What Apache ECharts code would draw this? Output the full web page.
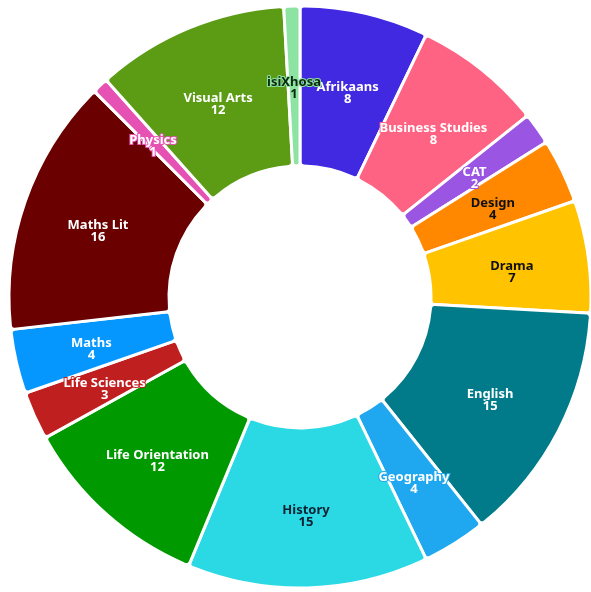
<!DOCTYPE html>
<html>
<head>
<meta charset="utf-8">
<script src="https://cdn.jsdelivr.net/npm/echarts@6/dist/echarts.min.js"></script>
<style>
  html, body { margin: 0; padding: 0; background: #fff; }
  #chart { width: 591px; height: 592px; }
</style>
</head>
<body>
<div id="chart"></div>
<script>
const subjects = ['Afrikaans', 'Business Studies', 'CAT', 'Design', 'Drama', 'English', 'Geography', 'History',
    'Life Orientation', 'Life Sciences', 'Maths', 'Maths Lit', 'Physics', 'Visual Arts', 'isiXhosa'];
const counts = [8, 8, 2, 4, 7, 15, 4, 15, 12, 3, 4, 16, 1, 12, 1];
const sliceColors = ['#4129e2', '#fe6383', '#9a55e2', '#ff8800', '#ffc300', '#017b8a', '#1fa8ef', '#2bd9e4',
    '#009a00', '#c01f20', '#0597fe', '#6a0000', '#e651b4', '#5b9c14', '#8de3a1'];
const textColors = ['#fff', '#fff', '#fff', '#111', '#111', '#fff', '#fff', '#0b2233',
    '#fff', '#fff', '#fff', '#fff', '#fff', '#fff', '#0c2a12'];

const chart = echarts.init(document.getElementById('chart'));

const ring = { center: [300, 297], radius: [131, 291], startAngle: 90, clockwise: true };

// slices only
const sliceData = subjects.map((name, i) => ({
    name: name,
    value: counts[i],
    itemStyle: { color: sliceColors[i] }
}));

// same values again, labels only, so every label sits above every slice
const labelData = subjects.map((name, i) => ({
    name: name,
    value: counts[i],
    label: { color: textColors[i], textBorderColor: sliceColors[i] }
}));

chart.setOption({
    animation: false,
    series: [{
        type: 'pie',
        ...ring,
        silent: true,
        itemStyle: { borderColor: '#fff', borderWidth: 3, borderRadius: 4 },
        label: { show: false },
        labelLine: { show: false },
        data: sliceData
    }, {
        type: 'pie',
        ...ring,
        silent: true,
        z: 5,
        avoidLabelOverlap: false,
        minShowLabelAngle: 0,
        itemStyle: { color: 'rgba(0,0,0,0)', borderWidth: 0 },
        label: {
            show: true,
            position: 'inside',
            formatter: '{b}\n{c}',
            fontFamily: 'Noto Sans',
            fontWeight: 'bold',
            fontSize: 13,
            lineHeight: 12,
            offset: [0, 5],
            textBorderWidth: 2
        },
        labelLayout: { hideOverlap: false },
        labelLine: { show: false },
        data: labelData
    }]
});
</script>
</body>
</html>
